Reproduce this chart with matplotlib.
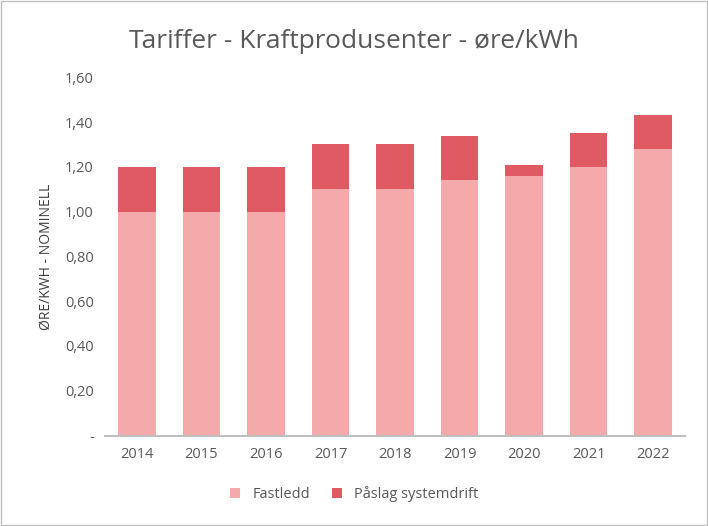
import matplotlib.pyplot as plt
from matplotlib.patches import Rectangle

years = ["2014", "2015", "2016", "2017", "2018", "2019", "2020", "2021", "2022"]
fastledd = [1.00, 1.00, 1.00, 1.10, 1.10, 1.14, 1.16, 1.20, 1.28]
paslag = [0.20, 0.20, 0.20, 0.20, 0.20, 0.20, 0.05, 0.15, 0.15]
yticks = [0, 0.2, 0.4, 0.6, 0.8, 1.0, 1.2, 1.4, 1.6]
ylabels = ["-", "0,20", "0,40", "0,60", "0,80", "1,00", "1,20", "1,40", "1,60"]

plt.rcParams["font.family"] = "Open Sans"
fig = plt.figure(figsize=(7.08, 5.26), dpi=100)
fig.patches.append(Rectangle((0.002, 0.002), 0.996, 0.996, transform=fig.transFigure,
                             fill=False, edgecolor="#bfbfbf", linewidth=1))
ax = fig.add_axes([0.148, 0.172, 0.82, 0.681])

x = range(len(years))
ax.bar(x, fastledd, width=0.58, color="#f4a9ab", label="Fastledd")
ax.bar(x, paslag, width=0.58, bottom=fastledd, color="#e05a63", label="Påslag systemdrift")

ax.set_ylim(0, 1.6)
ax.set_xlim(-0.5, len(years) - 0.5)
ax.set_yticks(yticks)
ax.set_yticklabels(ylabels)
ax.set_xticks(list(x))
ax.set_xticklabels(years)
ax.tick_params(axis="both", length=0, labelsize=10.5, colors="#595959", pad=8)
for s in ["top", "right", "left"]:
    ax.spines[s].set_visible(False)
ax.spines["bottom"].set_color("#bfbfbf")
ax.spines["bottom"].set_linewidth(1.5)
ax.set_ylabel("ØRE/KWH - NOMINELL", fontsize=10, color="#404040", labelpad=8)

fig.suptitle("Tariffer - Kraftprodusenter - øre/kWh", fontsize=19, color="#595959", y=0.945)
fig.legend(loc="lower center", bbox_to_anchor=(0.5, 0.02), ncol=2, frameon=False,
           fontsize=10.5, labelcolor="#595959", handlelength=0.7, handleheight=0.7,
           columnspacing=1.5)

fig.savefig("out.png", dpi=100)
